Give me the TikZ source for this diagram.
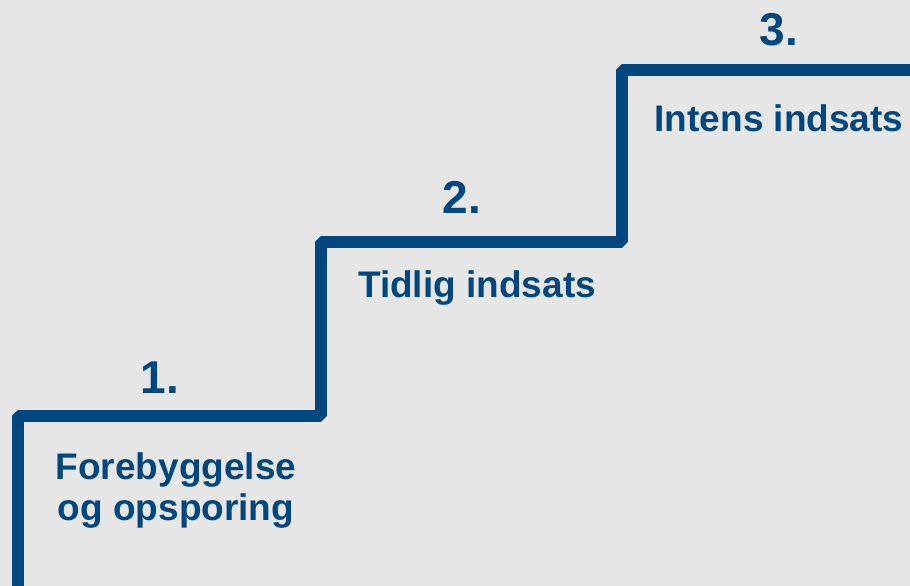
\documentclass[tikz,border=0pt]{standalone}
\usepackage{fontspec}
\setmainfont{Liberation Sans}
\usepackage{tikz}
\definecolor{stairblue}{RGB}{0,70,127}
\definecolor{bggray}{RGB}{230,230,230}

\begin{document}
\begin{tikzpicture}[x=1pt,y=-1pt,
    stair/.style={line width=12pt,stairblue,line join=bevel},
    steplabel/.style={anchor=base,text=stairblue,inner sep=0pt,
      font=\fontsize{37}{41}\selectfont\bfseries,align=center},
    stepnum/.style={steplabel,font=\fontsize{46}{50}\selectfont\bfseries}]
          \fill[bggray] (0,0) rectangle (910,586);
          \useasboundingbox (0,0) rectangle (910,586);
          \coordinate (s0) at (17.5,600);
          \coordinate (s1) at (17.5,416);
          \coordinate (s2) at (321,416);
          \coordinate (s3) at (321,242);
          \coordinate (s4) at (622,242);
          \coordinate (s5) at (622,70);
          \coordinate (s6) at (920,70);
          \draw[stair] (s0) -- (s1) -- (s2) -- (s3) -- (s4) -- (s5) -- (s6);
          \node[stepnum] (n1) at (160,393) {1.};
          \node[steplabel] (t1) at (176,520) {Forebyggelse\\og opsporing};
          \node[stepnum] (n2) at (462,213) {2.};
          \node[steplabel] (t2) at (477,297) {Tidlig indsats};
          \node[stepnum] (n3) at (779,46) {3.};
          \node[steplabel] (t3) at (779,131) {Intens indsats};
        \end{tikzpicture}
\end{document}
